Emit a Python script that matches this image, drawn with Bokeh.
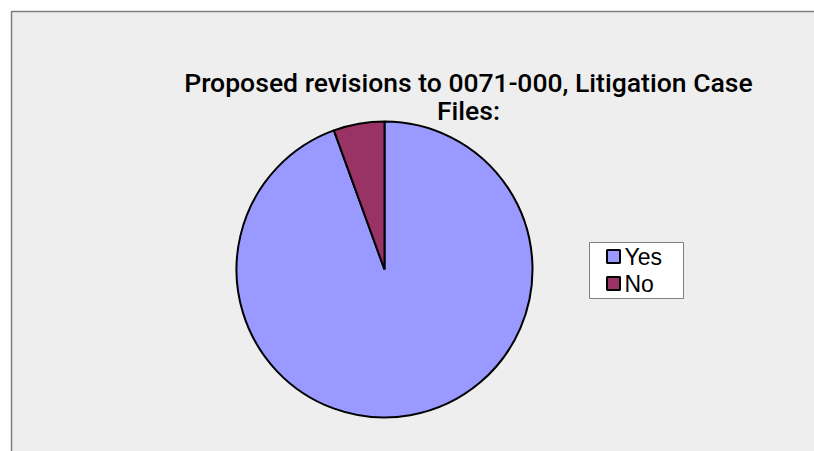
import numpy as np
from bokeh.plotting import figure
from bokeh.models import Range1d, ColumnDataSource
from bokeh.core.properties import value
from bokeh.embed import file_html
from bokeh.resources import INLINE

# ---- data ----
categories = ["Yes", "No"]
counts = [17, 1]
colors = ["#9999FF", "#993366"]
title_lines = ["Proposed revisions to 0071-000, Litigation Case", "Files:"]

W, H = 814, 451
p = figure(width=W, height=H, output_backend="svg", toolbar_location=None,
           x_range=Range1d(0, W), y_range=Range1d(0, H), min_border=0,
           x_axis_location=None, y_axis_location=None,
           background_fill_color="white", border_fill_color="white")
p.grid.visible = False
p.outline_line_color = None

# chart area background with border
p.quad(left=[11], right=[W + 20], top=[440], bottom=[-20],
       fill_color="#EEEEEE", line_color="#7F7F7F", line_width=1.5)

# pie: clockwise from 12 o'clock
vals = np.array(counts, dtype=float)
frac = vals / vals.sum()
cum = np.concatenate([[0], np.cumsum(frac)])
start = np.pi / 2 - cum[1:] * 2 * np.pi
end = np.pi / 2 - cum[:-1] * 2 * np.pi
src = ColumnDataSource(dict(start=start, end=end, color=colors, cat=categories))
cx, cy, r = 384, 182, 148
p.wedge(x=cx, y=cy, radius=r, start_angle="start", end_angle="end",
        fill_color="color", line_color="black", line_width=2, source=src)

# title
p.text(x=[468, 468], y=[369, 341], text=title_lines,
       text_font=value("Roboto Medium"), text_font_size="26.5px",
       text_align="center", text_baseline="alphabetic", text_color="black")

# legend
p.quad(left=[589], right=[683], top=[209], bottom=[153],
       fill_color="white", line_color="#7F7F7F", line_width=1)
n = len(categories)
ly = [195 - 27 * i for i in range(n)]
p.scatter(x=[613] * n, y=ly, marker="square", size=13, fill_color=colors,
          line_color="black", line_width=2)
p.text(x=[624] * n, y=ly, text=categories, text_font=value("Liberation Sans"),
       text_font_size="23px", text_align="left", text_baseline="middle",
       text_color="black")

open("out.html", "w").write(file_html(p, INLINE))
